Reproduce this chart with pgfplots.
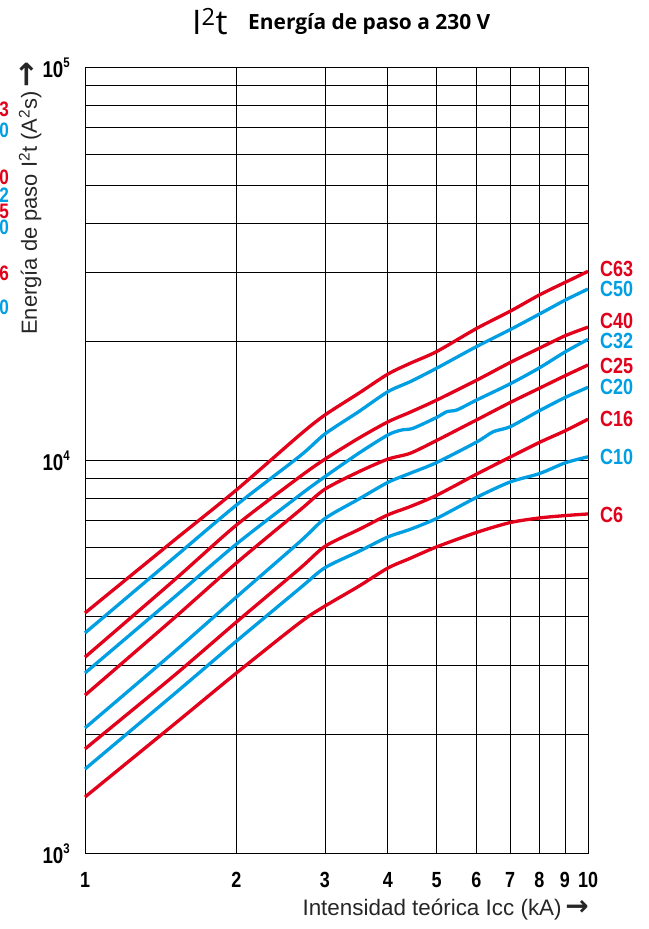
\documentclass[border=0pt]{standalone}
\usepackage{fontspec}
\usepackage{pgfplots}
\usepackage{pgfplotstable}
\pgfplotsset{compat=1.18}
\setmainfont{Liberation Sans}
\newfontfamily\condfont{Liberation Sans}[FakeStretch=0.82]
\newfontfamily\labelfont{Liberation Sans}
\newfontfamily\titlefont{Open Sans}
\newfontfamily\arrowfont{DejaVu Sans}
\definecolor{cred}{RGB}{226,0,26}
\definecolor{cblue}{RGB}{0,159,227}
\newcommand{\tsup}[1]{\raisebox{0.42em}{\fontsize{14}{14}\selectfont #1}}

\pgfplotstableread{
x c63 c50 c40 c25 c16 c10 c6
1 4080 3630 3150 2520 1840 1635 1388
1.5 6230 5630 4930 3950 2820 2530 2120
2 8390 7680 6830 5470 3870 3460 2870
2.676 11600 10240 9070 7460 5300 4720 3860
3 13020 11650 10050 8430 6030 5320 4250
3.5 14780 13270 11360 9330 6650 5850 4770
4 16540 14920 12500 10050 7250 6370 5310
4.43 17620 15820 13230 10400 7610 6660 5620
5 18870 17120 14200 11210 8130 7100 6010
6 21600 19430 15950 12640 9200 8030 6540
7 23900 21460 17700 14000 10170 8790 6930
8 26290 23500 19250 15220 11080 9230 7120
9 28300 25500 20700 16380 11860 9830 7220
10 30200 27230 21780 17450 12700 10190 7290
}\mainT

\pgfplotstableread{
x y
1 2870
1.5 4460
2 6110
2.676 8150
3 9070
3.5 10400
4 11580
4.26 11920
4.49 12040
5 12830
5.24 13270
5.49 13410
6 14200
7 15620
8 17150
9 18830
10 20280
}\cThirtyTwo

\pgfplotstableread{
x y
1 2080
1.5 3240
2 4480
2.676 6200
3 7100
3.5 7950
4 8770
4.43 9250
5 9850
6 11100
6.48 11800
7 12150
8 13340
9 14420
10 15310
}\cTwenty

\begin{document}
\begin{tikzpicture}
\begin{axis}[
  at={(0,0)}, anchor=south west,
  scale only axis, width=503bp, height=786bp,
  xmode=log, ymode=log,
  xmin=1, xmax=10, ymin=1000, ymax=100000,
  xtick={1,2,3,4,5,6,7,8,9,10},
  xticklabels={1,2,3,4,5,6,7,8,9,10},
  ytick={1000,10000,100000},
  yticklabels={{10\tsup{3}},{10\tsup{4}},{10\tsup{5}}},
  minor ytick={2000,3000,4000,5000,6000,7000,8000,9000,20000,30000,40000,50000,60000,70000,80000,90000},
  grid=both,
  major grid style={black, line width=0.8bp},
  minor grid style={black, line width=0.8bp},
  axis line style={black, line width=0.8bp},
  tick style={draw=none},
  xticklabel style={font=\condfont\bfseries\fontsize{22}{22}\selectfont, inner sep=0pt, anchor=north, yshift=-19bp},
  yticklabel style={font=\condfont\bfseries\fontsize{23}{23}\selectfont, inner sep=0pt, anchor=east, xshift=-15bp, yshift=-1bp},
  clip=false,
  every axis plot/.append style={line width=3.3bp, line join=round, smooth, tension=0.45},
]
\addplot[cred] table[x=x,y=c6] {\mainT};
\addplot[cblue] table[x=x,y=c10] {\mainT};
\addplot[cred] table[x=x,y=c16] {\mainT};
\addplot[cblue] table[x=x,y=y] {\cTwenty};
\addplot[cred] table[x=x,y=c25] {\mainT};
\addplot[cblue] table[x=x,y=y] {\cThirtyTwo};
\addplot[cred] table[x=x,y=c40] {\mainT};
\addplot[cblue] table[x=x,y=c50] {\mainT};
\addplot[cred] table[x=x,y=c63] {\mainT};

\begin{scope}[every node/.style={anchor=west, inner sep=0pt, xshift=12bp, font=\condfont\bfseries\fontsize{22}{22}\selectfont}]
\node[text=cred]  at (axis cs:10,30620) {C63};
\node[text=cblue] at (axis cs:10,27230) {C50};
\node[text=cred]  at (axis cs:10,22580) {C40};
\node[text=cblue] at (axis cs:10,20090) {C32};
\node[text=cred]  at (axis cs:10,17350) {C25};
\node[text=cblue] at (axis cs:10,15340) {C20};
\node[text=cred]  at (axis cs:10,12720) {C16};
\node[text=cblue] at (axis cs:10,10180) {C10};
\node[text=cred]  at (axis cs:10,7245) {C6};
\end{scope}
\end{axis}

% cut-off labels at the left edge
\begin{scope}[every node/.style={anchor=east, inner sep=0pt, font=\condfont\bfseries\fontsize{21}{21}\selectfont}]
\node[text=cred]  at (-76bp,744bp) {C63};
\node[text=cblue] at (-76bp,723bp) {C50};
\node[text=cred]  at (-76bp,676bp) {C40};
\node[text=cblue] at (-76bp,658bp) {C32};
\node[text=cred]  at (-76bp,642bp) {C25};
\node[text=cblue] at (-76bp,626bp) {C20};
\node[text=cred]  at (-76bp,580bp) {C16};
\node[text=cblue] at (-76bp,546bp) {C10};
\end{scope}

% title
\node[anchor=base west, inner sep=0pt, font=\titlefont\fontsize{34}{34}\selectfont] at (107bp,818bp) {I\textsuperscript{2}t};
\node[anchor=base west, inner sep=0pt, font=\titlefont\bfseries\fontsize{21}{21}\selectfont] at (163bp,823bp) {Energía de paso a 230 V};

% axis labels
\node[anchor=base east, inner sep=0pt, font=\labelfont\fontsize{22.5}{22.5}\selectfont, text=black!85] at (504bp,-62bp) {Intensidad teórica Icc (kA)\,{\arrowfont\bfseries\fontsize{28}{28}\selectfont →}};
\node[rotate=90, anchor=base west, inner sep=0pt, font=\labelfont\fontsize{22}{22}\selectfont, text=black!85] at (-48bp,518bp) {Energía de paso I\textsuperscript{2}t (A\textsuperscript{2}s)\,{\arrowfont\bfseries\fontsize{31}{31}\selectfont →}};

\pgfresetboundingbox
\path (-85bp,-76bp) rectangle (564bp,853bp);
\end{tikzpicture}
\end{document}
